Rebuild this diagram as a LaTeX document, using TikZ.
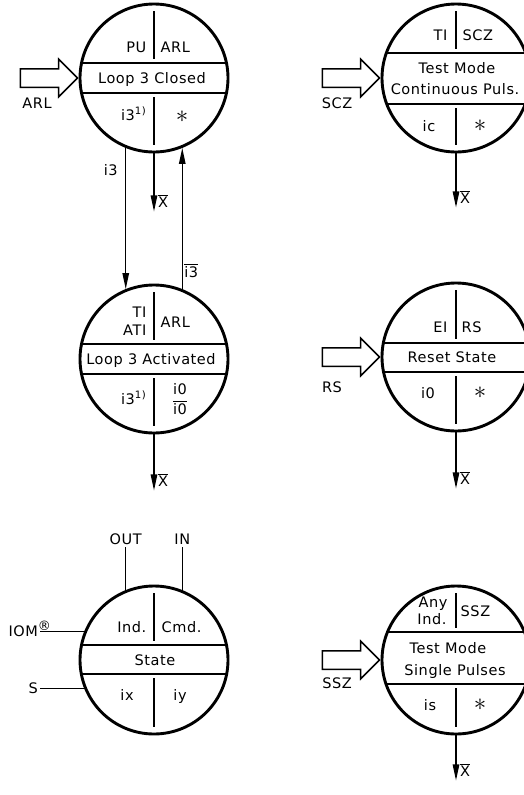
\documentclass[tikz,border=0pt]{standalone}
\usepackage{fontspec}
\setmainfont{DejaVu Sans}[LetterSpace=4]
\usetikzlibrary{arrows.meta,shapes.arrows}

\begin{document}
\begin{tikzpicture}[x=1pt,y=-1pt,
	every node/.style={font=\fontsize{14.5}{17}\selectfont,inner sep=1.5pt},
	ring/.style={circle,draw,line width=2.9pt,minimum size=148pt,inner sep=0pt},
	band/.style={line width=2.9pt},
	divider/.style={line width=1.7pt},
	flow/.style={line width=1.2pt,-{Triangle[length=16pt,width=6.5pt]}},
	wire/.style={line width=1.2pt},
	inarrow/.style={single arrow,draw,line width=1.5pt,minimum height=57pt,
		single arrow head extend=9.5pt,inner xsep=0pt,inner ysep=8.5pt,anchor=tip},
	xbar/.style={anchor=base west,xshift=2pt,yshift=4pt},
	star/.style={font=\fontsize{26}{26}\selectfont}]
	\clip (0,0) rectangle (524,795);
	% state circles with band and divider
	\foreach \s/\cx/\cy/\ta/\tb in {closed/154/78/63/93,contin/456/78/53/104,
		activ/154/359/344/374,reset/456/357/343/372,
		state/154/660/645/674,single/456/660/632/684}{
		\node[ring] (\s) at (\cx,\cy) {};
		\begin{scope}
			\clip (\cx,\cy) circle[radius=74];
			\draw[band] (\cx-80,\ta) -- (\cx+80,\ta) (\cx-80,\tb) -- (\cx+80,\tb);
		\end{scope}
		\draw[divider] (\cx,\cy-67) -- (\cx,\ta-4) (\cx,\tb+4) -- (\cx,\cy+67);
	}
	% Loop 3 Closed
	\node[anchor=base east] (pu) at (148,52) {PU};
	\node[anchor=base west] (arlc) at (159,52) {ARL};
	\node[anchor=base] (loopc) at (152,83) {Loop 3 Closed};
	\node[anchor=base east] (i3c) at (148,120) {i3\textsuperscript{1)}};
	\node[star] (starc) at (182,117) {$\ast$};
	% Test Mode Continuous
	\node[anchor=base east] (tic) at (449,40) {TI};
	\node[anchor=base west] (sczc) at (461,40) {SCZ};
	\node[anchor=base] (tmc) at (457,73) {Test Mode};
	\node[anchor=base] (cpc) at (455,94) {Continuous Puls.};
	\node[anchor=base] (icc) at (429,131) {ic};
	\node[star] (starcp) at (480,126) {$\ast$};
	% Loop 3 Activated
	\node[anchor=base east] (tia) at (148,317) {TI};
	\node[anchor=base east] (atia) at (148,335) {ATI};
	\node[anchor=base west] (arla) at (159,327) {ARL};
	\node[anchor=base] (loopa) at (151,364) {Loop 3 Activated};
	\node[anchor=base east] (i3a) at (148,404) {i3\textsuperscript{1)}};
	\node (i0a) at (180,399) {$\displaystyle\frac{\mbox{i0}}{\mbox{i0}}$};
	% Reset State
	\node[anchor=base east] (eir) at (449,332) {EI};
	\node[anchor=base west] (rsr) at (460,332) {RS};
	\node[anchor=base] (resr) at (452,362) {Reset State};
	\node[anchor=base] (i0r) at (428,398) {i0};
	\node[star] (starr) at (480,393) {$\ast$};
	% State (legend)
	\node[anchor=base east] (inds) at (148,632) {Ind.};
	\node[anchor=base west] (cmds) at (160,632) {Cmd.};
	\node[anchor=base] (sts) at (155,665) {State};
	\node[anchor=base] (ixs) at (127,700) {ix};
	\node[anchor=base] (iys) at (180,700) {iy};
	% Test Mode Single
	\node[anchor=base] (anyp) at (433,607) {Any};
	\node[anchor=base] (indp) at (432,624) {Ind.};
	\node[anchor=base west] (sszp) at (459,616) {SSZ};
	\node[anchor=base] (tmp) at (448,653) {Test Mode};
	\node[anchor=base] (spp) at (455,675) {Single Pulses};
	\node[anchor=base] (isp) at (430,710) {is};
	\node[star] (starp) at (480,705) {$\ast$};
	% entry arrows
	\node[inarrow] (arlin) at (closed.west) {};
	\node (arllab) at (37,103) {ARL};
	\node[inarrow] (sczin) at (contin.west) {};
	\node (sczlab) at (337,103) {SCZ};
	\node[inarrow] (rsin) at (reset.west) {};
	\node (rslab) at (332,387) {RS};
	\node[inarrow] (sszin) at (single.west) {};
	\node (sszlab) at (337,683) {SSZ};
	% transitions
	\draw[flow] (closed.248) -- node[pos=0.16,left=6pt] (i3lab) {i3} (activ.112);
	\draw[flow] (activ.68) -- node[pos=0.13,right] (i3bar) {$\overline{\mbox{i3}}$} (closed.292);
	% outputs
	\draw[flow] (closed.south) -- ++(0,58) node[xbar] (xc) {$\overline{\mbox{X}}$};
	\draw[flow] (contin.south) -- ++(0,54) node[xbar] (xcp) {$\overline{\mbox{X}}$};
	\draw[flow] (activ.south) -- ++(0,56) node[xbar] (xa) {$\overline{\mbox{X}}$};
	\draw[flow] (reset.south) -- ++(0,56) node[xbar] (xr) {$\overline{\mbox{X}}$};
	\draw[flow] (single.south) -- ++(0,45) node[xbar] (xp) {$\overline{\mbox{X}}$};
	% legend wires
	\draw[wire] (state.112) -- ++(0,-43) node[above] (outlab) {OUT};
	\draw[wire] (state.68) -- ++(0,-43) node[above] (inlab) {IN};
	\draw[wire] (state.158) -- ++(-44,0) node[anchor=base east,yshift=-5pt] (iomlab)
		{IOM\rlap{\raisebox{6pt}{\fontsize{13}{13}\selectfont ®}}};
	\draw[wire] (state.202) -- ++(-44,0) node[anchor=base east,yshift=-5pt] (slab) {S};
\end{tikzpicture}
\end{document}
